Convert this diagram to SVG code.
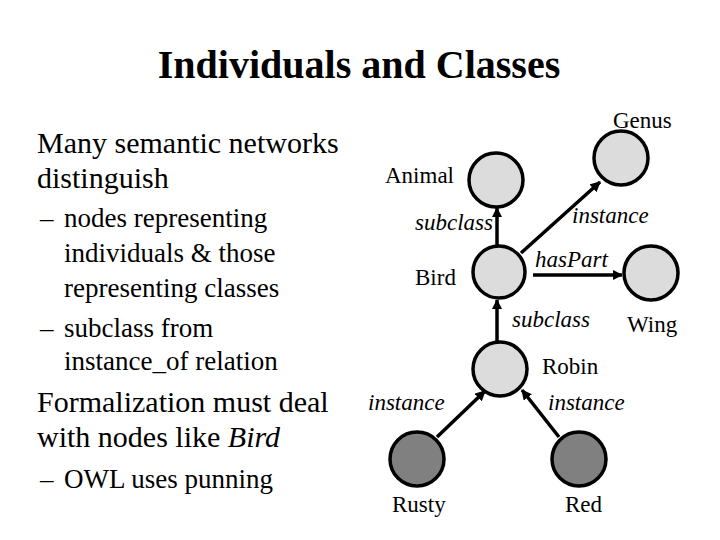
<svg xmlns="http://www.w3.org/2000/svg" width="720" height="540" viewBox="0 0 720 540" font-family="'Liberation Serif', 'Times New Roman', serif">
<defs>
<style>
.title{font-family:'Liberation Serif',serif;font-size:40px;font-weight:bold}
.l1{font-family:'Liberation Serif',serif;font-size:30px}
.l2{font-family:'Liberation Serif',serif;font-size:27px}
.lbl{font-family:'Liberation Serif',serif;font-size:23px}
.it{font-family:'Liberation Serif',serif;font-size:23px;font-style:italic}
.cls{fill:#dcdcdc;stroke:#000;stroke-width:3.5}
.ind{fill:#808080;stroke:#000;stroke-width:3.5}
.edge{stroke:#000;stroke-width:3.5;fill:none;marker-end:url(#ah)}
</style>
<marker id="ah" viewBox="0 0 10 10" refX="9" refY="5" markerWidth="3" markerHeight="3" orient="auto" markerUnits="strokeWidth">
<path d="M0,0 L10,5 L0,10 z" fill="#000"/>
</marker>
</defs>
<rect width="720" height="540" fill="#fff"/>
<text class="title" x="359" y="78" text-anchor="middle">Individuals and Classes</text>
<g id="bullets">
<text class="l1" x="37" y="153">Many semantic networks</text>
<text class="l1" x="37" y="188">distinguish</text>
<text class="l2" x="40" y="227">–</text>
<text class="l2" x="64" y="227">nodes representing</text>
<text class="l2" x="64" y="262">individuals &amp; those</text>
<text class="l2" x="64" y="297">representing classes</text>
<text class="l2" x="40" y="337">–</text>
<text class="l2" x="64" y="337">subclass from</text>
<text class="l2" x="64" y="370">instance_of relation</text>
<text class="l1" x="37" y="412">Formalization must deal</text>
<text class="l1" x="37" y="447">with nodes like <tspan font-style="italic">Bird</tspan></text>
<text class="l2" x="40" y="488">–</text>
<text class="l2" x="64" y="488">OWL uses punning</text>
</g>
<g id="connectors">
<line class="edge" x1="497" y1="246" x2="497" y2="208"/>
<line class="edge" x1="521" y1="253" x2="600" y2="182"/>
<line class="edge" x1="533" y1="275" x2="622" y2="275"/>
<line class="edge" x1="497" y1="342" x2="497" y2="300"/>
<line class="edge" x1="437" y1="437" x2="485" y2="391"/>
<line class="edge" x1="559" y1="437" x2="522" y2="390"/>
</g>
<g id="edge-labels">
<text class="it" x="415" y="230">subclass</text>
<text class="it" x="572" y="223">instance</text>
<text class="it" x="535" y="267">hasPart</text>
<text class="it" x="512" y="327">subclass</text>
<text class="it" x="368" y="410">instance</text>
<text class="it" x="548" y="410">instance</text>
</g>
<g id="node-animal"><circle class="cls" cx="496" cy="180" r="27"/><text class="lbl" x="385" y="183">Animal</text></g>
<g id="node-genus"><circle class="cls" cx="621" cy="158" r="27"/><text class="lbl" x="613" y="128">Genus</text></g>
<g id="node-bird"><circle class="cls" cx="499" cy="272" r="26"/><text class="lbl" x="415" y="285">Bird</text></g>
<g id="node-wing"><circle class="cls" cx="651" cy="273" r="27"/><text class="lbl" x="627" y="332">Wing</text></g>
<g id="node-robin"><circle class="cls" cx="500" cy="369" r="27"/><text class="lbl" x="542" y="374">Robin</text></g>
<g id="node-rusty"><circle class="ind" cx="417" cy="459" r="27"/><text class="lbl" x="392" y="512">Rusty</text></g>
<g id="node-red"><circle class="ind" cx="579" cy="459" r="27"/><text class="lbl" x="565" y="512">Red</text></g>
</svg>
